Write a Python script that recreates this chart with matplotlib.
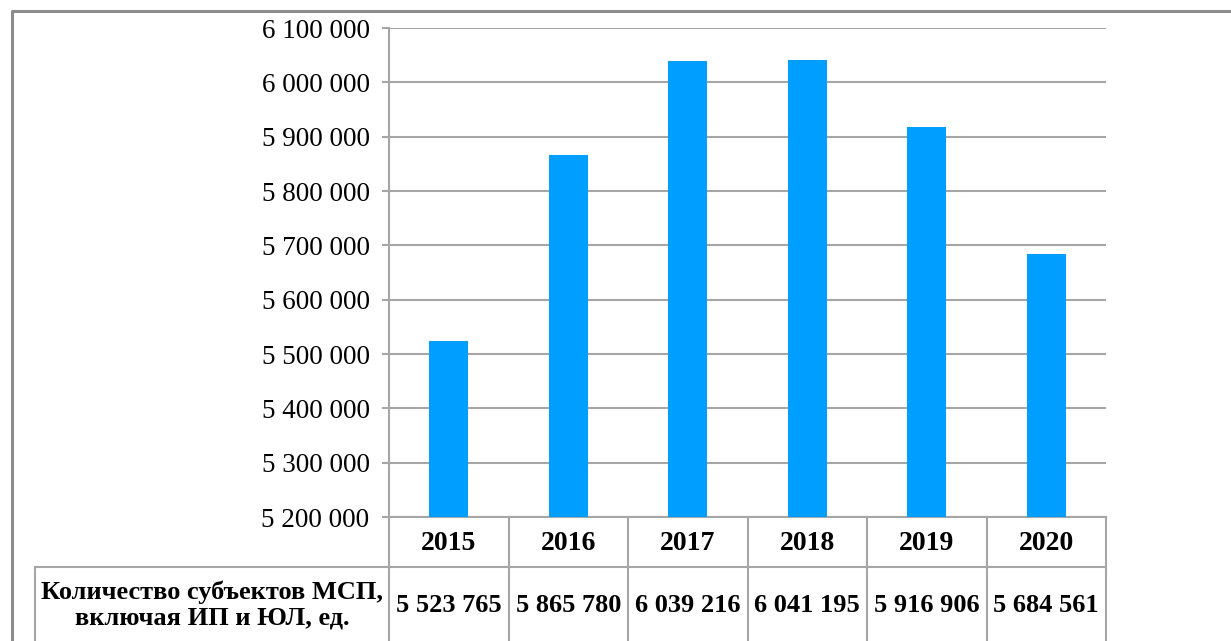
import matplotlib.pyplot as plt
from matplotlib.transforms import blended_transform_factory
from matplotlib.ticker import FuncFormatter

years = ["2015", "2016", "2017", "2018", "2019", "2020"]
counts = [5523765, 5865780, 6039216, 6041195, 5916906, 5684561]
row_label = "Количество субъектов МСП,\nвключая ИП и ЮЛ, ед."

W, H = 1231, 641
plt.rcParams["font.family"] = ["Liberation Serif", "DejaVu Serif"]

fig = plt.figure(figsize=(W / 100, H / 100), dpi=100)

# pixel overlay for frame and table lines
ov = fig.add_axes([0, 0, 1, 1], zorder=0)
ov.set_xlim(0, W)
ov.set_ylim(H, 0)
ov.axis("off")

grid_col = "#a6a6a6"
ov.plot([12, 12, W + 5], [H + 5, 11, 11], color="#8c8c8c", lw=2.2, solid_capstyle="butt")

ax = fig.add_axes([389 / W, 1 - 517 / H, (1106 - 389) / W, (517 - 28) / H], zorder=1)
ax.patch.set_alpha(0)
x = list(range(len(years)))
ax.bar(x, counts, width=0.33, color="#009fff", zorder=3)
ax.set_xlim(-0.5, len(years) - 0.5)
ax.set_ylim(5200000, 6100000)
ax.set_yticks(range(5200000, 6100001, 100000))
ax.yaxis.set_major_formatter(FuncFormatter(lambda v, p: f"{int(v):,}".replace(",", " ")))
ax.grid(axis="y", color=grid_col, lw=1.5, zorder=0)
ax.set_xticks([])
for s in ["top", "right", "bottom"]:
    ax.spines[s].set_visible(False)
ax.spines["left"].set_color(grid_col)
ax.spines["left"].set_linewidth(1.5)
ax.tick_params(axis="y", length=5, width=1.5, color=grid_col, labelsize=19.5, pad=9)

# data table under the axis
tr = blended_transform_factory(ax.transData, ov.transData)
lc = dict(color=grid_col, lw=1.5, transform=tr, clip_on=False)
left, right = -0.5, len(years) - 0.5
ov.plot([left, right], [517, 517], **lc)
ov.plot([left, right], [567, 567], **lc)
for i in range(len(years) + 1):
    ov.plot([i - 0.5, i - 0.5], [517, H + 5], **lc)
ov.plot([35, 389], [567, 567], color=grid_col, lw=1.5)
ov.plot([35, 35], [567, H + 5], color=grid_col, lw=1.5)

for i, (yr, c) in enumerate(zip(years, counts)):
    ov.text(i, 543, yr, transform=tr, ha="center", va="center", fontsize=20, fontweight="bold")
    ov.text(i, 606, f"{c:,}".replace(",", " "), transform=tr, ha="center", va="center",
            fontsize=19, fontweight="bold")
ov.text(212, 605, row_label, ha="center", va="center", fontsize=19, fontweight="bold",
        linespacing=1.15)

fig.savefig("out.png", dpi=100)
